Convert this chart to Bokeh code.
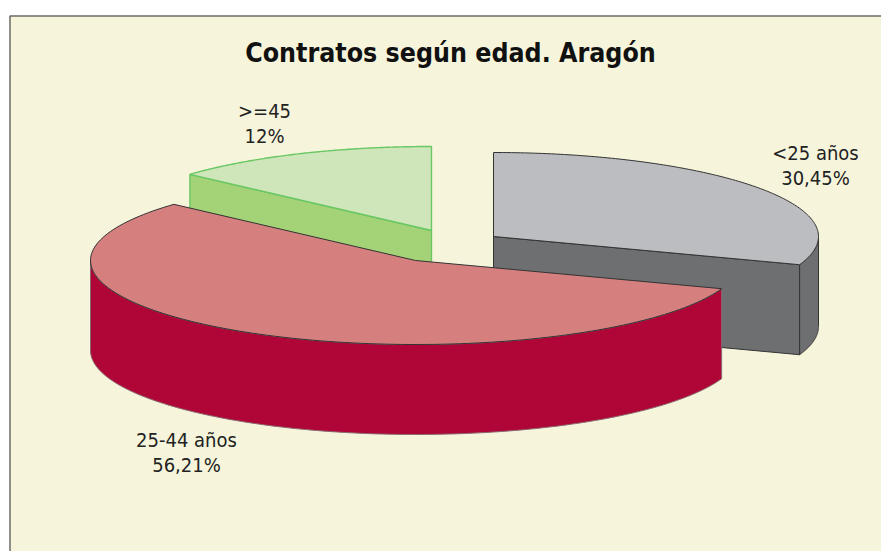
import numpy as np
from bokeh.plotting import figure
from bokeh.embed import file_html
from bokeh.resources import INLINE
from bokeh.core.properties import value
from bokeh.models import Range1d

# ---- data ----
title_text = "Contratos según edad. Aragón"
categories = ["<25 años", "25-44 años", ">=45"]
shares = [30.45, 56.21, 13.34]            # slice sweep as drawn in the picture
share_labels = ["30,45%", "56,21%", "12%"]  # labels as printed

# ---- layout (picture pixels) ----
W, H = 881, 551
RX, RY, DEPTH = 325, 84, 90
centres = [(493, 236), (415, 260), (431, 230)]
top_cols = ["#bcbdc1", "#d5807f", "#cfe6ba"]
side_cols = ["#6e6f71", "#b00537", "#a3d277"]
line_cols = ["#333333", "#333333", "#69c764"]
wall_line_cols = ["#333333", "#8a6a70", "#69c764"]
line_widths = [1, 1, 1.4]
label_pos = [(815, 165), (186, 452), (264, 123)]
LINE_H = 25

FONT = "DejaVu Sans Condensed"

p = figure(width=W, height=H, output_backend="svg", toolbar_location=None,
           x_range=Range1d(0, W), y_range=Range1d(H, 0), min_border=0,
           background_fill_color="white", border_fill_color="white", outline_line_color=None)
p.axis.visible = False
p.grid.visible = False

# panel
p.quad(left=[9.5], right=[900], top=[15.5], bottom=[570], fill_color="#f6f5dc",
       line_color="#6b6b66", line_width=1.5)

def pts(cx, cy, a0, a1, dz=0, n=140):
    t = np.radians(np.linspace(a0, a1, n))
    return cx + RX * np.sin(t), cy - RY * np.cos(t) + dz

# sweep angles, clockwise from 12 o'clock
edges = np.concatenate([[0], np.cumsum(shares)]) / sum(shares) * 360.0

def draw_slice(i):
    cx, cy = centres[i]
    a0, a1 = edges[i], edges[i + 1]
    lc, side, top, lw = line_cols[i], side_cols[i], top_cols[i], line_widths[i]
    # cut faces looking towards the viewer
    for a, visible in ((a0, 180 < a0 < 360), (a1, 0 < a1 < 180)):
        if visible:
            ex, ey = pts(cx, cy, a, a, n=1)
            p.patch([cx, ex[0], ex[0], cx], [cy, ey[0], ey[0] + DEPTH, cy + DEPTH],
                    fill_color=side, line_color=lc, line_width=lw)
    # outer wall: the front half of the rim
    lo, hi = max(a0, 90), min(a1, 270)
    if lo < hi:
        xa, ya = pts(cx, cy, lo, hi)
        xb, yb = pts(cx, cy, hi, lo, DEPTH)
        p.patch(np.concatenate([xa, xb]), np.concatenate([ya, yb]),
                fill_color=side, line_color=wall_line_cols[i], line_width=lw)
    # top face
    xa, ya = pts(cx, cy, a0, a1)
    p.patch(np.concatenate([[cx], xa]), np.concatenate([[cy], ya]),
            fill_color=top, line_color=lc, line_width=lw)

for i in (2, 0, 1):
    draw_slice(i)

# title
p.text(x=[450], y=[52], text=[title_text], text_font=value(FONT), text_font_style="bold",
       text_font_size="26.5px", text_color="#111111", text_align="center", text_baseline="middle")

# labels
for (lx, ly), name, lab in zip(label_pos, categories, share_labels):
    p.text(x=[lx, lx], y=[ly - LINE_H / 2, ly + LINE_H / 2], text=[name, lab],
           text_font=value(FONT), text_font_size="20px", text_color="#222222",
           text_align="center", text_baseline="middle")

open("out.html", "w").write(file_html(p, INLINE))
